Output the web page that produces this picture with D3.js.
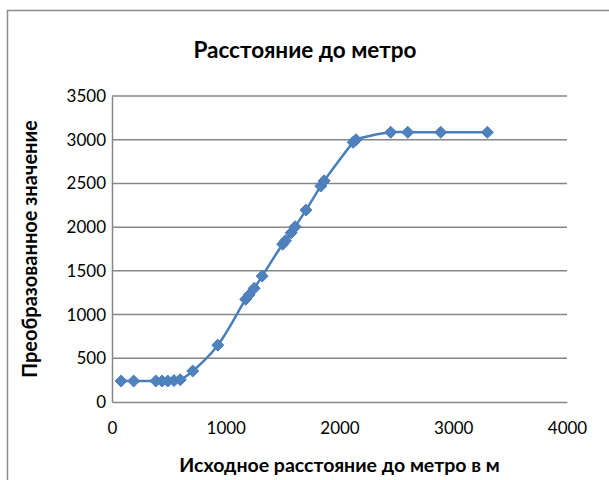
<!DOCTYPE html>
<html><head><meta charset="utf-8">
<script src="https://cdn.jsdelivr.net/npm/d3@7"></script>
<style>body{margin:0;background:#fff}svg{display:block}</style>
</head><body>
<script>
const xValues = [80, 190, 385, 440, 490, 545, 600, 710, 930, 1175, 1205, 1250, 1320, 1500, 1525, 1575, 1610, 1705, 1835, 1865, 2120, 2145, 2450, 2600, 2890, 3300];
const yValues = [240, 240, 240, 240, 240, 245, 255, 355, 650, 1175, 1225, 1300, 1440, 1805, 1845, 1935, 2005, 2195, 2470, 2530, 2970, 3000, 3085, 3085, 3085, 3085];
const xTicks = [0, 1000, 2000, 3000, 4000];
const yTicks = [0, 500, 1000, 1500, 2000, 2500, 3000, 3500];
const title = "Расстояние до метро";
const xTitle = "Исходное расстояние до метро в м";
const yTitle = "Преобразованное значение";

const W = 609, H = 480;
const m = {left: 112, right: 567, top: 96, bottom: 402};
const svg = d3.select("body").append("svg").attr("width", W).attr("height", H);
const font = "Lato, 'Open Sans', sans-serif";

svg.append("rect").attr("x", 7.5).attr("y", 10.5).attr("width", 800).attr("height", 800)
  .attr("fill", "#fff").attr("stroke", "#8c8c8c").attr("stroke-width", 1.5);

const x = d3.scaleLinear().domain([0, 4000]).range([m.left, m.right]);
const y = d3.scaleLinear().domain([0, 3500]).range([m.bottom, m.top]);

// gridlines
svg.append("g").selectAll("line").data(yTicks.filter(d => d > 0)).join("line")
  .attr("x1", m.left).attr("x2", m.right)
  .attr("y1", d => y(d)).attr("y2", d => y(d))
  .attr("stroke", "#868686").attr("stroke-width", 1.5);

// axes
const xAxis = svg.append("g").attr("transform", `translate(0,${m.bottom})`)
  .call(d3.axisBottom(x).tickValues(xTicks).tickSize(0).tickPadding(20).tickFormat(d3.format("d")));
const yAxis = svg.append("g").attr("transform", `translate(${m.left},0)`)
  .call(d3.axisLeft(y).tickValues(yTicks).tickSize(0).tickPadding(6).tickFormat(d3.format("d")));
[xAxis, yAxis].forEach(a => {
  a.select(".domain").attr("stroke", "#868686").attr("stroke-width", 1.5);
  a.selectAll("text").attr("font-family", font).attr("font-size", 17).attr("fill", "#000");
});

// line
const pts = xValues.map((v, i) => [v, yValues[i]]);
svg.append("path").datum(pts)
  .attr("fill", "none").attr("stroke", "#4A7EBB").attr("stroke-width", 2.5)
  .attr("d", d3.line().x(d => x(d[0])).y(d => y(d[1])).curve(d3.curveCatmullRom.alpha(0.5)));

// markers
const r = 6;
svg.append("g").selectAll("path").data(pts).join("path")
  .attr("transform", d => `translate(${x(d[0])},${y(d[1])})`)
  .attr("d", `M0,${-r}L${r},0L0,${r}L${-r},0Z`)
  .attr("fill", "#4F81BD").attr("stroke", "#4A7EBB").attr("stroke-width", 1);

// titles
svg.append("text").attr("x", 305).attr("y", 58).attr("text-anchor", "middle")
  .attr("font-family", font).attr("font-weight", "bold").attr("font-size", 22.5).text(title);
svg.append("text").attr("x", (m.left + m.right) / 2).attr("y", 472).attr("text-anchor", "middle")
  .attr("font-family", font).attr("font-weight", "bold").attr("font-size", 19.5).text(xTitle);
svg.append("text").attr("transform", `translate(37,${(m.top + m.bottom) / 2}) rotate(-90)`)
  .attr("text-anchor", "middle")
  .attr("font-family", font).attr("font-weight", "bold").attr("font-size", 20).text(yTitle);
</script>
</body></html>
